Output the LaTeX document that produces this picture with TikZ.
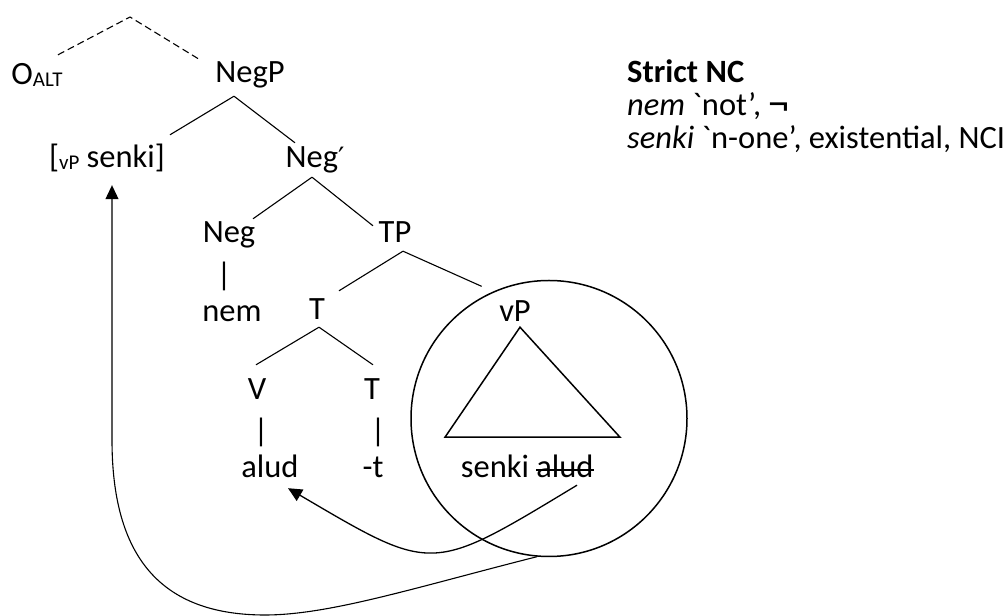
\documentclass[tikz,border=0pt]{standalone}
\usepackage{fontspec}
\setmainfont{Carlito}[Ligatures=TeXOff]
\newfontfamily\primefont{DejaVu Sans}
\usetikzlibrary{arrows.meta,positioning}
\newcommand{\smallsub}[1]{\raisebox{-1.5pt}{\fontsize{21}{22}\selectfont #1}}

\begin{document}
\begin{tikzpicture}[
  x=1pt, y=1pt,
  >={Triangle[length=14pt,width=13pt]},
  cat/.style={font=\fontsize{32.5}{36}\selectfont, inner sep=0pt, anchor=base,
    text height=20pt, text depth=6pt},
  key/.style={font=\fontsize{32.5}{36}\selectfont, inner sep=0pt, anchor=base west},
  branch/.style={line width=1.1pt},
  movement/.style={->, line width=1.3pt}
]
\useasboundingbox (0,0) rectangle (1005,616);

% Tree labels
\node[cat] (oalt)    at (37,531)  {O\smallsub{ALT}};
\node[cat] (negp)    at (250,533) {NegP};
\node[cat] (vpsenki) at (107,448) {[\smallsub{vP} senki]};
\node[cat] (negbar)  at (315,448) {Neg{\primefont\fontsize{28}{30}\selectfont ′}};
\node[cat] (neg)     at (229,373) {Neg};
\node[cat] (tp)      at (395,373) {TP};
\node[cat] (negstem) at (224,330) {|};
\node[cat] (nem)     at (232,294) {nem};
\node[cat] (tbar)    at (317,296) {T};
\node[cat] (vp)      at (515,294) {vP};
\node[cat] (v)       at (257,216) {V};
\node[cat] (t)       at (372,216) {T};
\node[cat] (vstem)   at (261,174) {|};
\node[cat] (tstem)   at (378,174) {|};
\node[cat] (alud)    at (270,138) {alud};
\node[cat] (suffix)  at (373,138) {-t};
\node[cat] (senki)   at (495,138) {senki};
\node[cat] (aludcopy) at (565,138) {alud};
\node[draw, circle, line width=1.5pt, minimum size=276pt, inner sep=0pt]
  (vpcircle) at (549,197.5) {};

% Key
\node[key, font=\fontsize{32.5}{36}\selectfont\bfseries] (keytitle) at (627,533) {Strict NC};
\node[key] (keynem)   at (627,500) {\textit{nem} `not’, \raisebox{-2pt}{\fontsize{42}{42}\selectfont ¬}};
\node[key] (keysenki) at (627,467) {\textit{senki} `n-one’, existential, NCI};

% Branches
\coordinate (top) at (130,599);
\draw[branch, dash pattern=on 7pt off 4pt]
  ([shift={(21,10)}]oalt.north) -- (top) -- ([shift={(-50,3)}]negp.north);
\draw[branch] ([shift={(-16,-7)}]negp.south) -- ([shift={(63,13)}]vpsenki.north);
\draw[branch] ([shift={(-16,-7)}]negp.south) -- ([shift={(-20,5)}]negbar.north);
\draw[branch] ([shift={(-3,-3)}]negbar.south) -- ([shift={(24,4)}]neg.north);
\draw[branch] ([shift={(-3,-3)}]negbar.south) -- ([shift={(-22,-3)}]tp.north);
\draw[branch] ([shift={(8,-2)}]tp.south) -- ([shift={(22,9)}]tbar.north);
\draw[branch] ([shift={(8,-2)}]tp.south) -- ([shift={(2,12)}]vpcircle.120);
\draw[branch] ([shift={(2,-1)}]tbar.south) -- ([shift={(-1,15)}]v.north);
\draw[branch] ([shift={(2,-1)}]tbar.south) -- ([shift={(1,15)}]t.north);
\draw[line width=1.5pt] ([shift={(5,1)}]vp.south) -- ++(-75,-110) -- ++(175,0) -- cycle;
\draw[line width=1.6pt] ([yshift=8pt]aludcopy.base west) -- ([yshift=8pt]aludcopy.base east);

% Movement
\draw[movement] ([shift={(12,-1)}]aludcopy.south)
  .. controls (430,42) and (434,42) .. ([shift={(18,-4)}]alud.south);
\coordinate (low)  at (265,1);
\coordinate (rise) at (112,176);
\draw[movement, line width=1.1pt] (vpcircle.265)
  .. controls (417,29) and (330,1) .. (low)
  .. controls (160,1) and (112,60) .. (rise) -- ([shift={(5,-11)}]vpsenki.south);
\end{tikzpicture}
\end{document}
